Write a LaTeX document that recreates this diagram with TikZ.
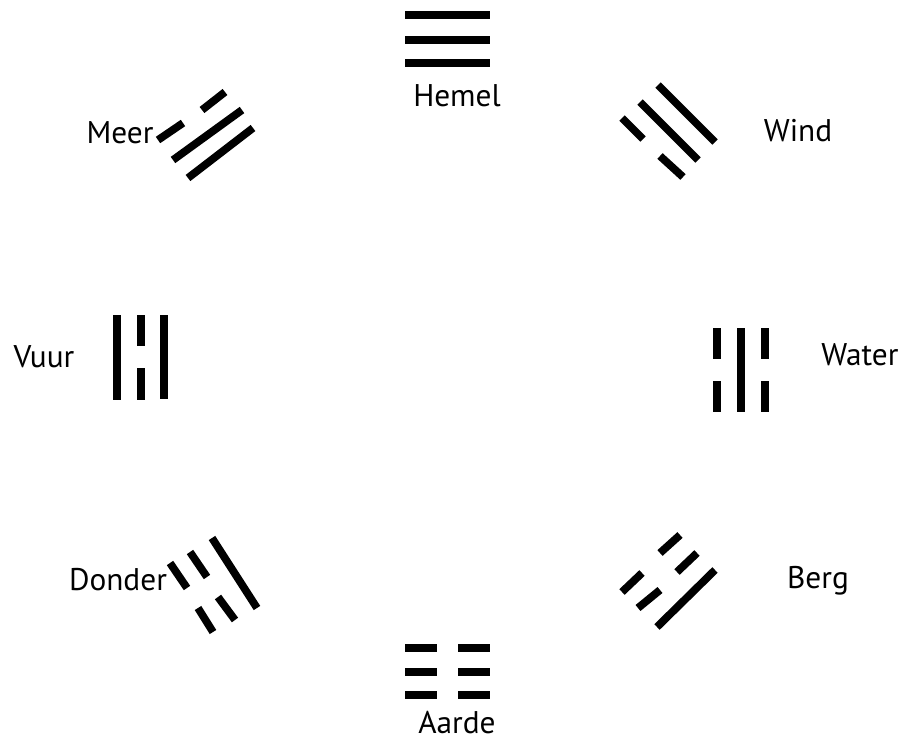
\documentclass[tikz,border=0pt]{standalone}
\usepackage{fontspec}
\setmainfont{PT Sans}

\tikzset{
  bar/.style={line width=5.8pt, line cap=butt},
  gualabel/.style={anchor=base, inner sep=0pt, font=\fontsize{23.5}{26}\selectfont}
}

\begin{document}
\begin{tikzpicture}[x=0.75pt, y=-0.75pt]
  \useasboundingbox (0,0) rectangle (908,742);
  % hemel
  \draw[bar] (405,15) -- (490,15);
  \draw[bar] (405,40) -- (490,40);
  \draw[bar] (405,63) -- (490,63);
  \node[gualabel] (hemel) at (457,107) {Hemel};
  % wind
  \draw[bar] (658,85) -- (715,142);
  \draw[bar] (640,102) -- (698,160);
  \draw[bar] (622,118) -- (643,139);
  \draw[bar] (660,156) -- (683,177);
  \node[gualabel] (wind) at (798,142) {Wind};
  % water
  \draw[bar] (717,328) -- (717,359);
  \draw[bar] (717,381) -- (717,412);
  \draw[bar] (741,328) -- (741,412);
  \draw[bar] (765,328) -- (765,359);
  \draw[bar] (765,381) -- (765,412);
  \node[gualabel] (water) at (860,365) {Water};
  % berg
  \draw[bar] (657,627) -- (715,570);
  \draw[bar] (638,608) -- (660,590);
  \draw[bar] (677,572) -- (697,553);
  \draw[bar] (622,592) -- (642,573);
  \draw[bar] (660,553) -- (680,535);
  \node[gualabel] (berg) at (818,588) {Berg};
  % aarde
  \draw[bar] (405,648) -- (437,648);
  \draw[bar] (458,648) -- (490,648);
  \draw[bar] (405,672) -- (437,672);
  \draw[bar] (458,672) -- (490,672);
  \draw[bar] (405,695) -- (437,695);
  \draw[bar] (458,695) -- (490,695);
  \node[gualabel] (aarde) at (457,733) {Aarde};
  % donder
  \draw[bar] (212,538) -- (257,608);
  \draw[bar] (190,552) -- (207,577);
  \draw[bar] (218,597) -- (235,620);
  \draw[bar] (170,563) -- (187,588);
  \draw[bar] (198,608) -- (213,632);
  \node[gualabel] (donder) at (118,590) {Donder};
  % vuur
  \draw[bar] (117,315) -- (117,400);
  \draw[bar] (141,315) -- (141,346);
  \draw[bar] (141,368) -- (141,400);
  \draw[bar] (164,315) -- (164,399);
  \node[gualabel] (vuur) at (44,367) {Vuur};
  % meer
  \draw[bar] (158,140) -- (183,123);
  \draw[bar] (202,110) -- (225,92);
  \draw[bar] (173,160) -- (242,110);
  \draw[bar] (188,178) -- (253,128);
  \node[gualabel] (meer) at (120,143) {Meer};
\end{tikzpicture}
\end{document}
